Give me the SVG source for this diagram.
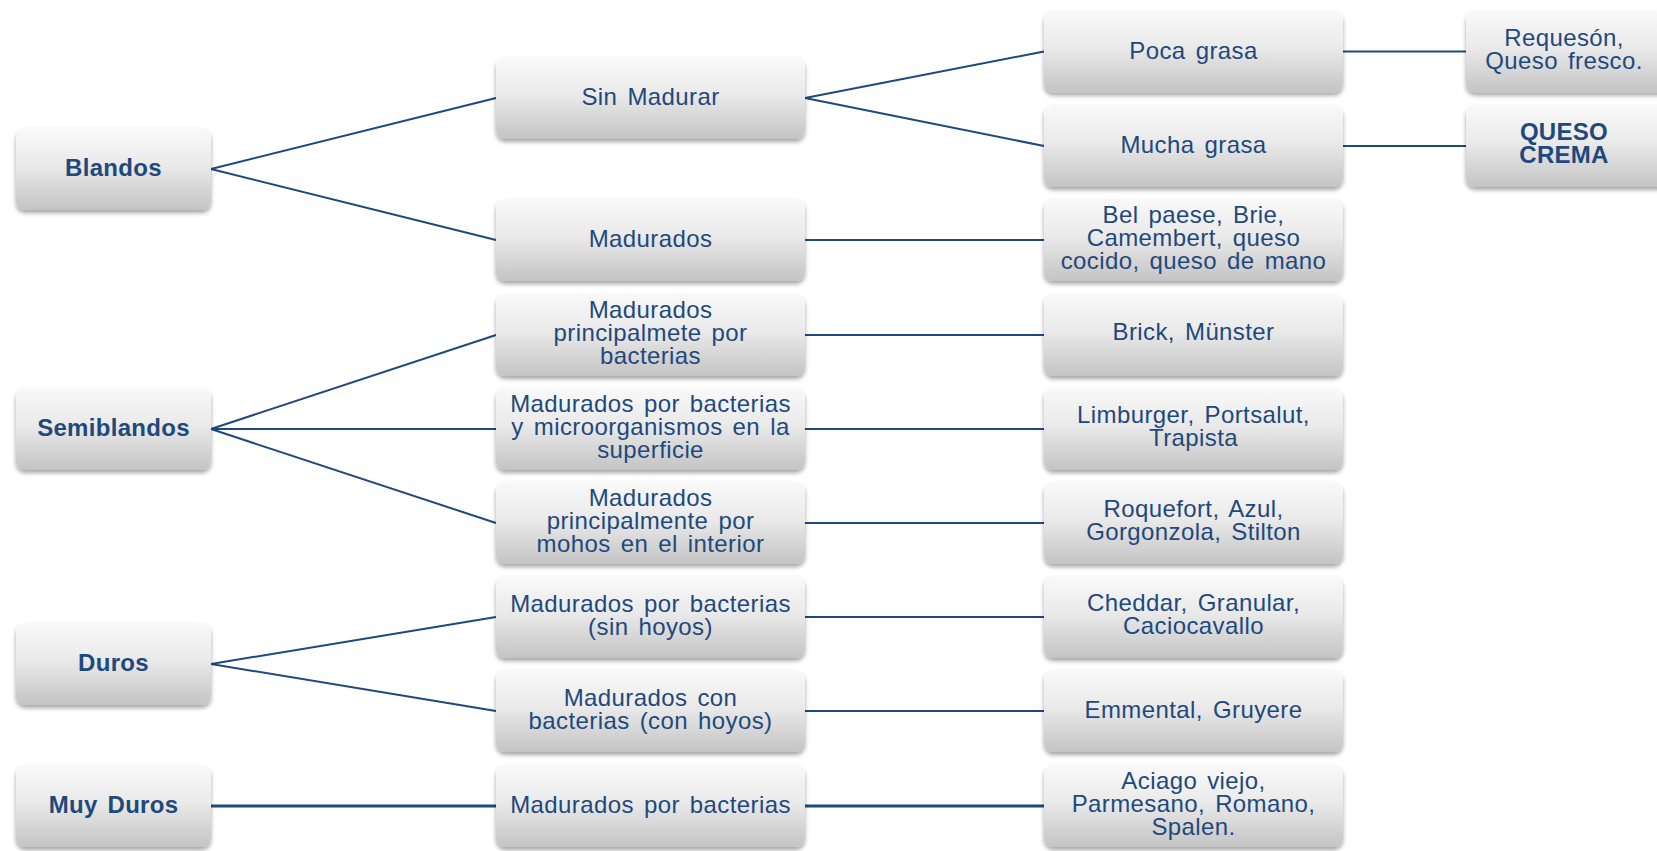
<svg xmlns="http://www.w3.org/2000/svg" width="1657" height="851" viewBox="0 0 1657 851">
<defs>
<linearGradient id="g" x1="0" y1="0" x2="0" y2="1">
<stop offset="0" stop-color="#F9F9F9"/>
<stop offset="0.45" stop-color="#EAEAEA"/>
<stop offset="1" stop-color="#C4C4C4"/>
</linearGradient>
<filter id="sh" x="-10%" y="-10%" width="120%" height="130%">
<feDropShadow dx="0" dy="3" stdDeviation="2.2" flood-color="#000" flood-opacity="0.35"/>
</filter>
</defs>
<style>
rect{fill:url(#g);filter:url(#sh)}
text{font-family:"Liberation Sans",Arial,sans-serif;font-size:24px;fill:#1F497D;text-anchor:middle;letter-spacing:0.4px;word-spacing:3px}
text.b{font-weight:bold;letter-spacing:0.3px}
#conn line{stroke:#1F497D;stroke-width:2;fill:none}
</style>
<rect x="0" y="0" width="1657" height="851" style="fill:#fff;filter:none"/>
<g id="conn">
<line x1="211" y1="169" x2="496" y2="98"/>
<line x1="211" y1="169" x2="496" y2="240"/>
<line x1="805" y1="98" x2="1044" y2="51.5"/>
<line x1="805" y1="98" x2="1044" y2="146"/>
<line x1="1343" y1="51.5" x2="1466" y2="51.5"/>
<line x1="1343" y1="146" x2="1466" y2="146"/>
<line x1="805" y1="240" x2="1044" y2="240"/>
<line x1="211" y1="429" x2="496" y2="335"/>
<line x1="211" y1="429" x2="496" y2="429"/>
<line x1="211" y1="429" x2="496" y2="523"/>
<line x1="805" y1="335" x2="1044" y2="335"/>
<line x1="805" y1="429" x2="1044" y2="429"/>
<line x1="805" y1="523" x2="1044" y2="523"/>
<line x1="211" y1="664" x2="496" y2="617"/>
<line x1="211" y1="664" x2="496" y2="711"/>
<line x1="805" y1="617" x2="1044" y2="617"/>
<line x1="805" y1="711" x2="1044" y2="711"/>
<line x1="211" y1="806" x2="496" y2="806" style="stroke-width:3"/>
<line x1="805" y1="806" x2="1044" y2="806" style="stroke-width:3"/>
</g>
<g id="blandos"><rect x="16" y="128" width="195" height="82" rx="9"/><text class="b" x="113.5" y="176">Blandos</text></g>
<g id="semiblandos"><rect x="16" y="388" width="195" height="82" rx="9"/><text class="b" x="113.5" y="436">Semiblandos</text></g>
<g id="duros"><rect x="16" y="623" width="195" height="82" rx="9"/><text class="b" x="113.5" y="671">Duros</text></g>
<g id="muyduros"><rect x="16" y="765" width="195" height="82" rx="9"/><text class="b" x="113.5" y="813">Muy Duros</text></g>

<g id="sinmadurar"><rect x="496" y="57" width="309" height="82" rx="9"/><text x="650.5" y="105">Sin Madurar</text></g>
<g id="madurados"><rect x="496" y="199" width="309" height="82" rx="9"/><text x="650.5" y="247">Madurados</text></g>
<g id="mad-bact"><rect x="496" y="294" width="309" height="82" rx="9"/><text x="650.5" y="317.5"><tspan x="650.5">Madurados</tspan><tspan x="650.5" dy="23">principalmete por</tspan><tspan x="650.5" dy="23">bacterias</tspan></text></g>
<g id="mad-bact-micro"><rect x="496" y="388" width="309" height="82" rx="9"/><text x="650.5" y="411.5"><tspan x="650.5">Madurados por bacterias</tspan><tspan x="650.5" dy="23">y microorganismos en la</tspan><tspan x="650.5" dy="23">superficie</tspan></text></g>
<g id="mad-mohos"><rect x="496" y="482" width="309" height="82" rx="9"/><text x="650.5" y="505.5"><tspan x="650.5">Madurados</tspan><tspan x="650.5" dy="23">principalmente por</tspan><tspan x="650.5" dy="23">mohos en el interior</tspan></text></g>
<g id="mad-sinhoyos"><rect x="496" y="576" width="309" height="82" rx="9"/><text x="650.5" y="612"><tspan x="650.5">Madurados por bacterias</tspan><tspan x="650.5" dy="23">(sin hoyos)</tspan></text></g>
<g id="mad-conhoyos"><rect x="496" y="670" width="309" height="82" rx="9"/><text x="650.5" y="706"><tspan x="650.5">Madurados con</tspan><tspan x="650.5" dy="23">bacterias (con hoyos)</tspan></text></g>
<g id="mad-bact2"><rect x="496" y="765" width="309" height="82" rx="9"/><text x="650.5" y="813">Madurados por bacterias</text></g>

<g id="pocagrasa"><rect x="1044" y="10.5" width="299" height="82" rx="9"/><text x="1193.5" y="58.5">Poca grasa</text></g>
<g id="muchagrasa"><rect x="1044" y="105" width="299" height="82" rx="9"/><text x="1193.5" y="153">Mucha grasa</text></g>
<g id="belpaese"><rect x="1044" y="199" width="299" height="82" rx="9"/><text x="1193.5" y="223"><tspan x="1193.5">Bel paese, Brie,</tspan><tspan x="1193.5" dy="23">Camembert, queso</tspan><tspan x="1193.5" dy="23">cocido, queso de mano</tspan></text></g>
<g id="brick"><rect x="1044" y="294" width="299" height="82" rx="9"/><text x="1193.5" y="340">Brick, Münster</text></g>
<g id="limburger"><rect x="1044" y="388" width="299" height="82" rx="9"/><text x="1193.5" y="423"><tspan x="1193.5">Limburger, Portsalut,</tspan><tspan x="1193.5" dy="23">Trapista</tspan></text></g>
<g id="roquefort"><rect x="1044" y="482" width="299" height="82" rx="9"/><text x="1193.5" y="517"><tspan x="1193.5">Roquefort, Azul,</tspan><tspan x="1193.5" dy="23">Gorgonzola, Stilton</tspan></text></g>
<g id="cheddar"><rect x="1044" y="576" width="299" height="82" rx="9"/><text x="1193.5" y="611"><tspan x="1193.5">Cheddar, Granular,</tspan><tspan x="1193.5" dy="23">Caciocavallo</tspan></text></g>
<g id="emmental"><rect x="1044" y="670" width="299" height="82" rx="9"/><text x="1193.5" y="718">Emmental, Gruyere</text></g>
<g id="aciago"><rect x="1044" y="765" width="299" height="82" rx="9"/><text x="1193.5" y="789"><tspan x="1193.5">Aciago viejo,</tspan><tspan x="1193.5" dy="23">Parmesano, Romano,</tspan><tspan x="1193.5" dy="23">Spalen.</tspan></text></g>

<g id="requeson"><rect x="1466" y="10.5" width="205" height="82" rx="9"/><text x="1564" y="46"><tspan x="1564">Requesón,</tspan><tspan x="1564" dy="23">Queso fresco.</tspan></text></g>
<g id="quesocrema"><rect x="1466" y="105" width="205" height="82" rx="9"/><text class="b" x="1564" y="140"><tspan x="1564">QUESO</tspan><tspan x="1564" dy="23">CREMA</tspan></text></g>
</svg>
